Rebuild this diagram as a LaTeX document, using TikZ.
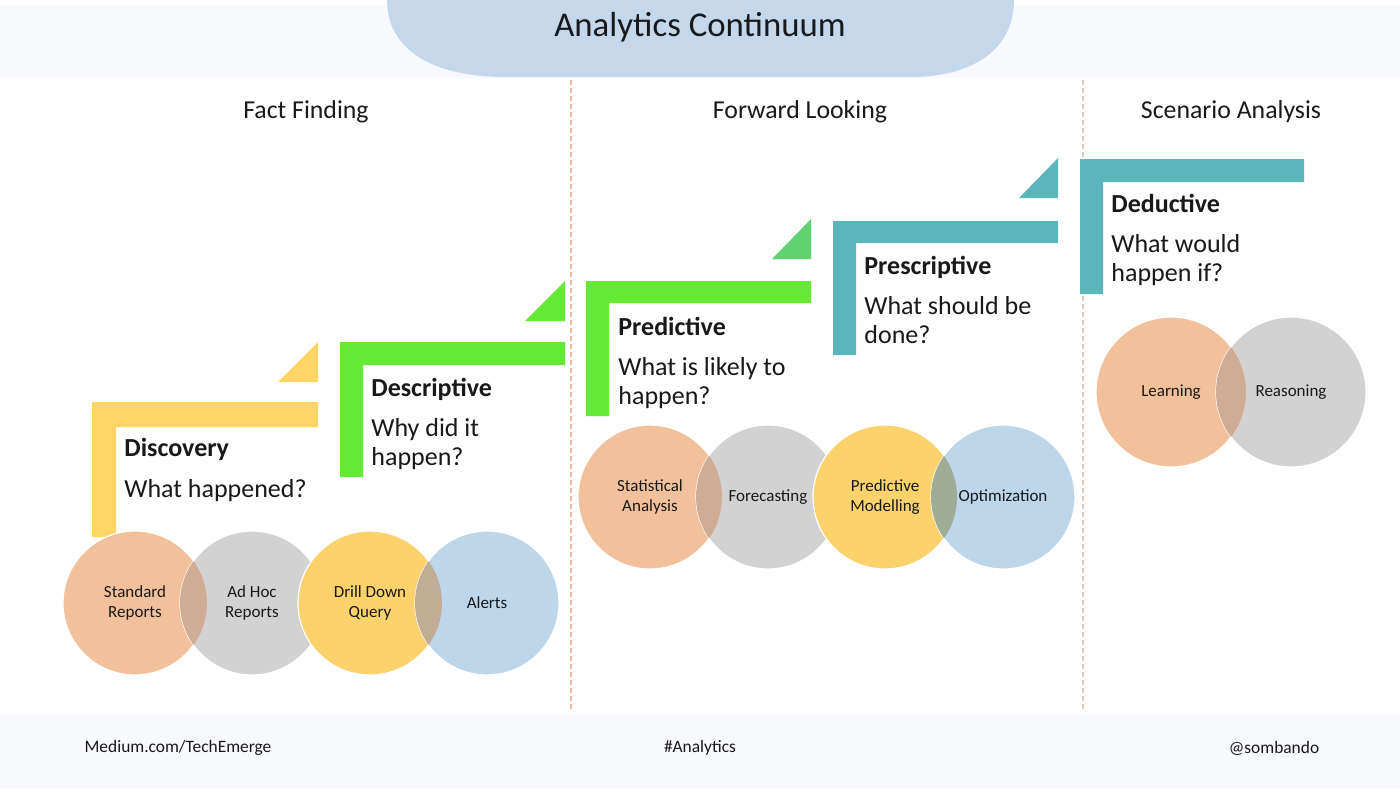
\documentclass[tikz,border=0pt]{standalone}
\usepackage{fontspec}
\setmainfont{Carlito}
\usetikzlibrary{positioning}
\definecolor{stepyellow}{RGB}{253,213,102}
\definecolor{stepgreen}{RGB}{100,234,52}
\definecolor{stepteal}{RGB}{92,181,188}
\definecolor{ventorange}{RGB}{242,193,156}
\definecolor{ventgrey}{RGB}{210,210,210}
\definecolor{ventyellow}{RGB}{252,210,108}
\definecolor{ventblue}{RGB}{190,214,234}
\definecolor{lenswarm}{RGB}{208,172,148}
\definecolor{lenscool}{RGB}{160,172,150}
\definecolor{titleblue}{RGB}{197,216,235}
\definecolor{banddots}{RGB}{248,249,252}
\definecolor{divpeach}{RGB}{240,190,152}
\definecolor{divgrey}{RGB}{222,204,190}
\definecolor{inkdark}{RGB}{25,25,25}

\begin{document}
\begin{tikzpicture}[x=.5pt,y=-.5pt,
colhead/.style={text=inkdark,font=\fontsize{12.9}{15}\selectfont,inner sep=0pt},
steptitle/.style={anchor=base west,text=inkdark,font=\fontsize{13}{14.5}\selectfont\bfseries,inner sep=0pt},
stepq/.style={anchor=base west,align=left,text=inkdark,font=\fontsize{13}{14.5}\selectfont,inner sep=0pt},
vent/.style={circle,minimum size=72pt,inner sep=0pt,draw=white,line width=.6pt,align=center,text=inkdark,font=\fontsize{8.5}{10}\selectfont},
bigvent/.style={vent,minimum size=75pt},
divider/.style={line width=.8pt,dash pattern=on 2.5pt off 1.5pt},
foot/.style={text=inkdark,font=\fontsize{8.7}{11}\selectfont,inner sep=0pt}]

\useasboundingbox(0,0)rectangle(1400,788);
\fill[white](0,0)rectangle(1400,788);
\fill[banddots](0,5)rectangle(1400,78);
\fill[banddots](0,714)rectangle(1400,788);
\fill[titleblue](387,0)..controls(387,48)and(430,77)..(505,77)--(910,77)..controls(975,77)and(1014,48)..(1014,0)--cycle;
\node[text=inkdark,font=\fontsize{17.4}{20}\selectfont,inner sep=0pt](title)at(700,27){Analytics Continuum};

\draw[divider,divpeach](571,80)--(571,712);
\draw[divider,divgrey](1083,80)--(1083,712);

\node[colhead](factfind)at(306,112){Fact Finding};
\node[colhead](fwdlook)at(800,112){Forward Looking};
\node[colhead](scenario)at(1231,112){Scenario Analysis};

\fill[stepyellow](92,402)--(318,402)--(318,427)--(116,427)--(116,537)--(92,537)--cycle;
\fill[stepyellow](278,382)--(318,382)--(318,342)--cycle;
\node[steptitle](disc)at(124,456){Discovery};
\node[stepq](discq)at(124,497){What happened?};

\fill[stepgreen](340,342)--(565,342)--(565,365)--(363,365)--(363,477)--(340,477)--cycle;
\fill[stepgreen](525,321)--(565,321)--(565,281)--cycle;
\node[steptitle](desc)at(371,396){Descriptive};
\node[stepq](descq)at(371,465){Why did it\\happen?};

\fill[stepgreen](586,281)--(811,281)--(811,303)--(609,303)--(609,416)--(586,416)--cycle;
\fill[stepgreen!55!stepteal](772,259)--(811,259)--(811,219)--cycle;
\node[steptitle](pred)at(618,335){Predictive};
\node[stepq](predq)at(618,404){What is likely to\\happen?};

\fill[stepteal](833,221)--(1058,221)--(1058,243)--(856,243)--(856,355)--(833,355)--cycle;
\fill[stepteal](1019,198)--(1058,198)--(1058,158)--cycle;
\node[steptitle](presc)at(864,274){Prescriptive};
\node[stepq](prescq)at(864,343){What should be\\done?};

\fill[stepteal](1080,159)--(1304,159)--(1304,182)--(1103,182)--(1103,294)--(1080,294)--cycle;
\node[steptitle](deduc)at(1111,212){Deductive};
\node[stepq](deducq)at(1111,281){What would\\happen if?};

\node[vent,fill=ventorange](stdrep)at(135,603){Standard\\Reports};
\node[vent,fill=ventgrey](adhoc)at(252,603){Ad Hoc\\Reports};
\begin{scope}
\clip(stdrep.center)circle[radius=72];
\fill[lenswarm](adhoc.center)circle[radius=72];
\end{scope}
\node[vent,fill=ventyellow](drill)at(370,603){Drill Down\\Query};
\node[vent,fill=ventblue](alerts)at(487,603){Alerts};
\begin{scope}
\clip(drill.center)circle[radius=72];
\fill[lenswarm!70!lenscool](alerts.center)circle[radius=72];
\end{scope}

\node[vent,fill=ventorange](stats)at(650,497){Statistical\\Analysis};
\node[vent,fill=ventgrey](forecast)at(768,497){Forecasting};
\begin{scope}
\clip(stats.center)circle[radius=72];
\fill[lenswarm](forecast.center)circle[radius=72];
\end{scope}
\node[vent,fill=ventyellow](predmod)at(885,497){Predictive\\Modelling};
\node[vent,fill=ventblue](optim)at(1003,497){Optimization};
\begin{scope}
\clip(predmod.center)circle[radius=72];
\fill[lenscool](optim.center)circle[radius=72];
\end{scope}

\node[bigvent,fill=ventorange](learn)at(1171,392){Learning};
\node[bigvent,fill=ventgrey](reason)at(1291,392){Reasoning};
\begin{scope}
\clip(learn.center)circle[radius=75];
\fill[lenswarm](reason.center)circle[radius=75];
\end{scope}

\node[foot](medium)at(178,748){Medium.com/TechEmerge};
\node[foot](hashtag)at(700,748){\#Analytics};
\node[foot](handle)at(1274,748){@sombando};
\end{tikzpicture}
\end{document}
